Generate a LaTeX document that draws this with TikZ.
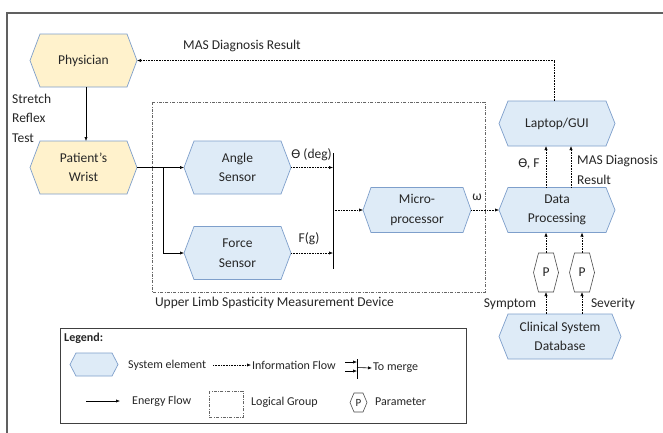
\documentclass[tikz,border=0pt]{standalone}
\usepackage{fontspec}
\setmainfont{Carlito}
\usetikzlibrary{arrows.meta,calc}
\definecolor{yfill}{HTML}{FFF2CC}
\definecolor{bfill}{HTML}{DEEBF7}
\definecolor{hedge}{HTML}{7E9FCB}
\definecolor{framec}{HTML}{606060}
\newcommand{\hexn}[8]{%
  \filldraw[#7] (#2-#4/2,#3) -- (#2-#4/2+#6,#3-#5/2) -- (#2+#4/2-#6,#3-#5/2) -- (#2+#4/2,#3) -- (#2+#4/2-#6,#3+#5/2) -- (#2-#4/2+#6,#3+#5/2) -- cycle;
  \node[txt,minimum width=#4,minimum height=#5,inner sep=0pt,outer sep=0pt] (#1) at (#2,#3) {#8};}
\begin{document}
\begin{tikzpicture}[x=1pt,y=-1pt,
  txt/.style={font=\fontsize{13.5}{19.5}\selectfont,align=center,text=black!85},
  lbl/.style={font=\fontsize{13.5}{19.5}\selectfont,align=left,text=black!85,inner sep=1pt},
  leg/.style={font=\fontsize{12}{14}\selectfont,align=left,text=black!85,inner sep=1pt,anchor=west},
  yel/.style={fill=yfill,draw=hedge,line width=0.7pt},
  blu/.style={fill=bfill,draw=hedge,line width=0.7pt},
  par/.style={fill=white,draw=black!70,line width=0.6pt},
  tip/.style={-{Latex[length=4pt,width=3.2pt]}},
  energy/.style={tip,draw=black,line width=0.6pt},
  info/.style={tip,draw=black,line width=0.6pt,densely dotted},
  group/.style={draw=black!60,line width=0.6pt,dash pattern=on 3pt off 1.5pt on 0.6pt off 1.5pt}]
\useasboundingbox (0,0) rectangle (663,432);
\fill[white] (0,0) rectangle (663,432);
\draw[framec,line width=1.3pt] (7,13) rectangle (680,450);

% group box
\draw[group] (152,102) rectangle (485,292);
\node[lbl] (grouplbl) at (274.5,303) {Upper Limb Spasticity Measurement Device};

% nodes
\hexn{phys}{83.5}{60.5}{107}{53}{10}{yel}{Physician}
\hexn{wrist}{83.5}{167.5}{107}{53}{10}{yel}{Patient’s\\Wrist}
\hexn{angle}{237.5}{167.5}{107}{53}{10}{blu}{Angle\\Sensor}
\hexn{force}{237.5}{253}{107}{53}{10}{blu}{Force\\Sensor}
\hexn{micro}{417}{210}{108}{45}{8}{blu}{Micro-\\processor}
\hexn{data}{557}{210}{116}{45}{9}{blu}{Data\\Processing}
\hexn{laptop}{557}{123.5}{116}{45}{9}{blu}{Laptop/GUI}
\hexn{db}{560}{336.5}{122}{45}{9}{blu}{Clinical System\\Database}
\hexn{p1}{546}{272.5}{25}{39}{5}{par}{P}
\hexn{p2}{582}{272.5}{25}{39}{5}{par}{P}

% merge bar
\coordinate (bartop) at (333,153);
\coordinate (barbot) at (333,269);
\coordinate (barmid) at (333,210);
\draw[black,line width=0.8pt] (bartop) -- (barbot);

% energy flows
\draw[energy] ([xshift=2.5pt]phys.south) -- ([xshift=2.5pt]wrist.north);
\coordinate (br) at (163,167.5);
\draw[energy] (wrist.east) -- (angle.west);
\draw[energy] (br) |- (force.west);

% info flows
\draw[info] (angle.east) -- (angle.east -| bartop);
\draw[info] (force.east) -- (force.east -| bartop);
\draw[info] (barmid) -- (micro.west);
\draw[info] (micro.east) -- (data.west);
\draw[info] ([xshift=-11pt]data.north) -- ([xshift=-11pt]laptop.south);
\draw[info] ([xshift=14pt]data.north) -- ([xshift=14pt]laptop.south);
\draw[info] ([xshift=-3pt]laptop.north) |- (phys.east);
\draw[info] (db.north -| p1.south) -- (p1.south);
\draw[info] (p1.north) -- (p1.north |- data.south);
\draw[info] (db.north -| p2.south) -- (p2.south);
\draw[info] (p2.north) -- (p2.north |- data.south);

% labels
\node[lbl] (masres) at (242,46) {MAS Diagnosis Result};
\node[lbl,anchor=west] (srt) at (11,118) {Stretch\\Reflex\\Test};
\node[lbl,anchor=east] (thlbl) at (333,155) {ϴ (deg)};
\node[lbl] (flbl) at (309,239) {F(g)};
\node[lbl] (wlbl) at (477,197) {ω};
\node[lbl] (thf) at (529,164) {ϴ, F};
\node[lbl,anchor=west] (mas2) at (576,170) {MAS Diagnosis\\Result};
\node[lbl] (sym) at (510,304) {Symptom};
\node[lbl] (sev) at (613,304) {Severity};

% legend
\draw[black!75,line width=0.8pt] (60,328) rectangle (466,423);
\node[leg,font=\fontsize{12}{14}\selectfont\bfseries] (legt) at (63,338) {Legend:};
\hexn{lhex}{94}{364.5}{48}{23}{6}{blu}{}
\node[leg] (lsys) at (127,365) {System element};
\coordinate (li1) at (213,365);
\node[leg] (linfo) at (251,365) {Information Flow};
\draw[info] (li1) -- (linfo.west);
\coordinate (lmt) at (357,359);
\coordinate (lmb) at (357,379);
\coordinate (lma) at (345,362);
\coordinate (lmb2) at (345,371);
\draw[black,line width=0.6pt] (lmt) -- (lmb);
\draw[energy] (lma) -- (lma -| lmt);
\draw[energy] (lmb2) -- (lmb2 -| lmt);
\coordinate (lmo) at (357,367.5);
\node[leg] (lmerge) at (372,368) {To merge};
\draw[energy] (lmo) -- (lmerge.west);
\coordinate (le1) at (86,401);
\coordinate (le2) at (120,401);
\draw[energy] (le1) -- (le2);
\node[leg] (lenergy) at (131,401) {Energy Flow};
\draw[group,line width=0.5pt] (209,391) rectangle (243,417);
\node[leg] (lgroup) at (250,402) {Logical Group};
\hexn{lpar}{358.5}{402.5}{17}{19}{4}{par}{\fontsize{11}{12}\selectfont P}
\node[leg] (lparam) at (374,402) {Parameter};
\end{tikzpicture}
\end{document}
